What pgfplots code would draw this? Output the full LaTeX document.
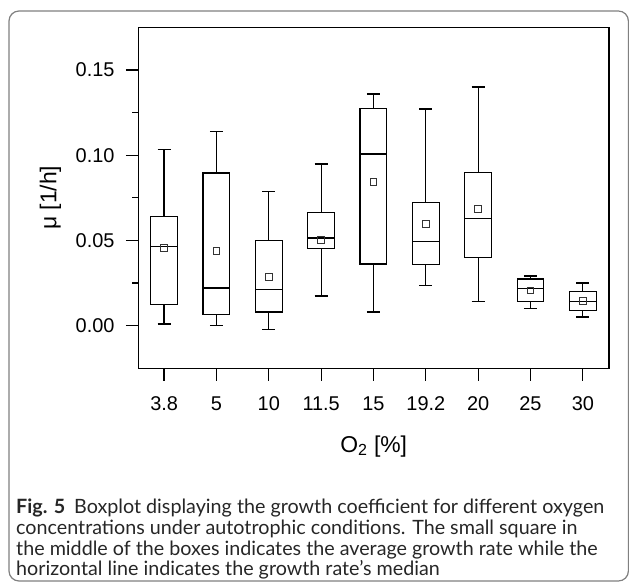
\documentclass[border=0pt]{standalone}
\usepackage{pgfplots}
\pgfplotsset{compat=1.18}
\usepgfplotslibrary{statistics}
\usepackage{fontspec}
\setmainfont{Liberation Sans}
\newfontfamily\capfont{Lato}
\begin{document}
\begin{tikzpicture}
\useasboundingbox (0bp,0bp) rectangle (629bp,584bp);
\draw[black!50, line width=1.2bp, rounded corners=10bp] (9bp,3bp) rectangle (628.4bp,573bp);
\begin{axis}[
  at={(138.5bp,215.7bp)}, anchor=south west,
  scale only axis, width=470.5bp, height=341bp,
  xmin=0.51, xmax=9.5, ymin=-0.025, ymax=0.175,
  xtick={1,2,3,4,5,6,7,8,9},
  xticklabels={3.8,5,10,11.5,15,19.2,20,25,30},
  ytick={0,0.05,0.10,0.15},
  yticklabels={0.00,0.05,0.10,0.15},
  minor ytick={0.025,0.075,0.125},
  tick align=outside,
  xtick pos=bottom, ytick pos=left,
  major tick length=12.5bp, minor tick length=6.5bp,
  axis line style={line width=1.3bp},
  every tick/.style={black, line width=1.3bp},
  every minor tick/.style={black, line width=1.3bp},
  tick label style={font=\fontsize{20}{23}\selectfont},
  xticklabel style={yshift=-12bp},
  yticklabel style={xshift=-8bp},
  label style={font=\fontsize{23}{26}\selectfont},
  xlabel={O\textsubscript{2} [\%]},
  ylabel={μ [1/h]},
  x label style={at={(axis description cs:0.5,0)}, anchor=center, yshift=-78bp},
  y label style={at={(axis description cs:0,0.5)}, anchor=center, yshift=88bp},
  boxplot/draw direction=y,
  boxplot/box extend=0.51,
  boxplot/whisker extend=0.25,
  clip=false,
]
\addplot[draw=black, line width=1.3bp, boxplot prepared={draw position=1, lower whisker=0.0010, lower quartile=0.0123, median=0.0465, upper quartile=0.0641, upper whisker=0.1035}] coordinates {};
\addplot[draw=black, line width=1.3bp, boxplot prepared={draw position=2, lower whisker=0.0000, lower quartile=0.0066, median=0.0221, upper quartile=0.0895, upper whisker=0.1137}] coordinates {};
\addplot[draw=black, line width=1.3bp, boxplot prepared={draw position=3, lower whisker=-0.0021, lower quartile=0.0080, median=0.0211, upper quartile=0.0500, upper whisker=0.0787}] coordinates {};
\addplot[draw=black, line width=1.3bp, boxplot prepared={draw position=4, lower whisker=0.0174, lower quartile=0.0453, median=0.0514, upper quartile=0.0664, upper whisker=0.0949}] coordinates {};
\addplot[draw=black, line width=1.3bp, boxplot prepared={draw position=5, lower whisker=0.0080, lower quartile=0.0361, median=0.1006, upper quartile=0.1275, upper whisker=0.1359}] coordinates {};
\addplot[draw=black, line width=1.3bp, boxplot prepared={draw position=6, lower whisker=0.0234, lower quartile=0.0359, median=0.0494, upper quartile=0.0723, upper whisker=0.1270}] coordinates {};
\addplot[draw=black, line width=1.3bp, boxplot prepared={draw position=7, lower whisker=0.0141, lower quartile=0.0400, median=0.0629, upper quartile=0.0898, upper whisker=0.1400}] coordinates {};
\addplot[draw=black, line width=1.3bp, boxplot prepared={draw position=8, lower whisker=0.0102, lower quartile=0.0141, median=0.0219, upper quartile=0.0273, upper whisker=0.0291}] coordinates {};
\addplot[draw=black, line width=1.3bp, boxplot prepared={draw position=9, lower whisker=0.0051, lower quartile=0.0088, median=0.0141, upper quartile=0.0200, upper whisker=0.0251}] coordinates {};
\addplot[only marks, mark=square, mark size=3.4bp, mark options={draw=black!80, line width=0.9bp}] coordinates {
(1,0.0457) (2,0.0439) (3,0.0287) (4,0.0504) (5,0.0842) (6,0.0596) (7,0.0684) (8,0.0207) (9,0.0147)};
\end{axis}
\begin{scope}[every node/.style={anchor=base west, inner sep=0pt, text=black!85, font=\capfont\fontsize{19.8}{21}\selectfont}]
\node at (16bp,584bp-514bp) {\textbf{Fig. 5}\hspace{0.45em}Boxplot displaying the growth coefficient for different oxygen};
\node at (16bp,584bp-534.5bp) {concentrations under autotrophic conditions. The small square in};
\node at (16bp,584bp-555bp) {the middle of the boxes indicates the average growth rate while the};
\node at (16bp,584bp-575bp) {horizontal line indicates the growth rate’s median};
\end{scope}
\end{tikzpicture}
\end{document}
